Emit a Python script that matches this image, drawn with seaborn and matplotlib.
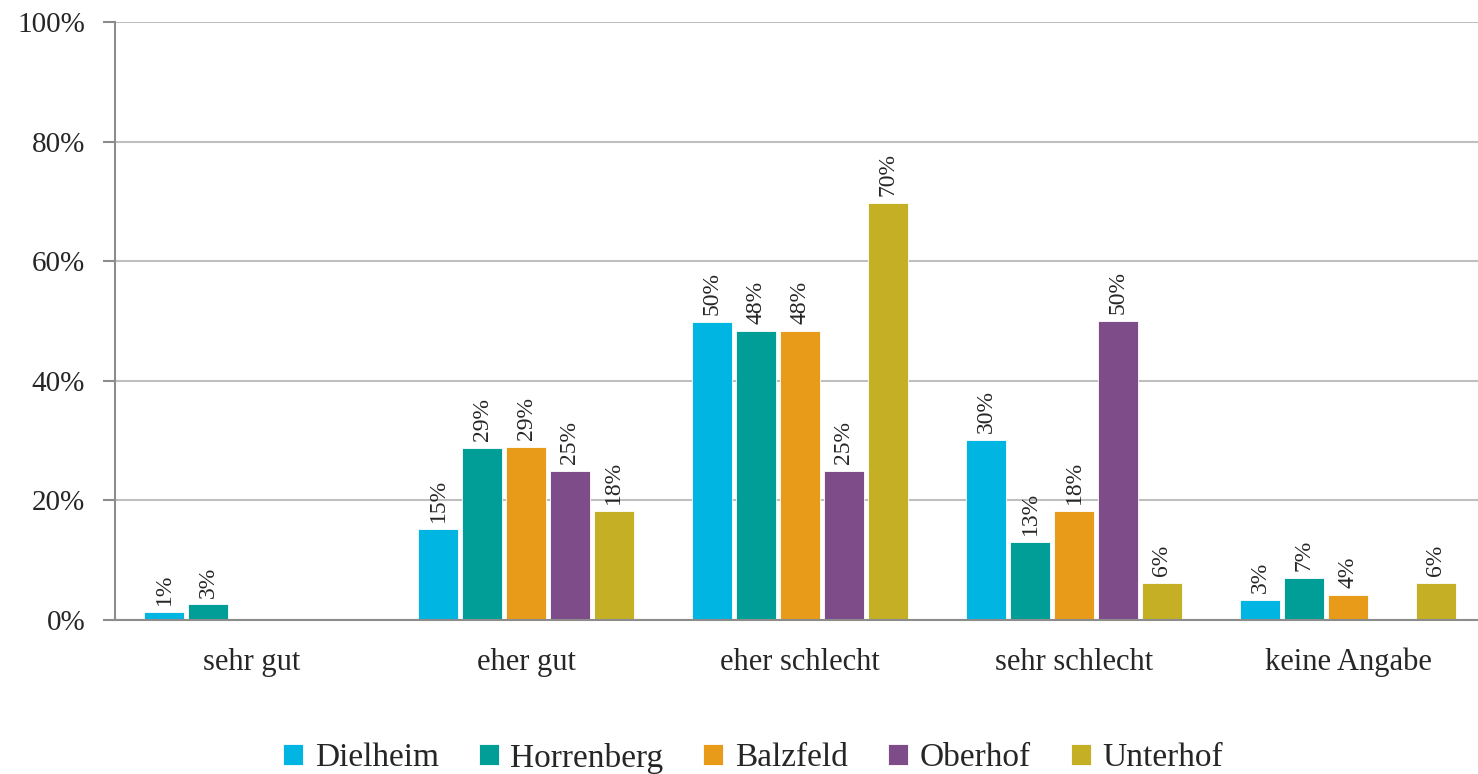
import numpy as np
import pandas as pd
import matplotlib.pyplot as plt
import seaborn as sns
from matplotlib.ticker import FuncFormatter, FixedLocator

# Data (percent)
kategorien = ['sehr gut', 'eher gut', 'eher schlecht', 'sehr schlecht', 'keine Angabe']
orte = ['Dielheim', 'Horrenberg', 'Balzfeld', 'Oberhof', 'Unterhof']
dielheim = [1.3, 15.3, 49.8, 30.1, 3.3]
horrenberg = [2.6, 28.8, 48.4, 13.0, 7.1]
balzfeld = [np.nan, 29.0, 48.4, 18.2, 4.2]
oberhof = [np.nan, 25.0, 25.0, 50.0, np.nan]
unterhof = [np.nan, 18.2, 69.7, 6.2, 6.2]
farben = ['#00B5E2', '#009E96', '#E89B18', '#7F4C8A', '#C5AF24']
y_ticks = [0, 20, 40, 60, 80, 100]

werte = [dielheim, horrenberg, balzfeld, oberhof, unterhof]
rows = []
for ort, vals in zip(orte, werte):
    for kat, v in zip(kategorien, vals):
        rows.append({'Kategorie': kat, 'Ort': ort, 'Wert': v})
df = pd.DataFrame(rows)

sns.set_style('white')
plt.rcParams['font.family'] = ['Liberation Serif', 'DejaVu Serif']

fig = plt.figure(figsize=(14.78, 7.74), dpi=100)
ax = fig.add_axes([115 / 1478, 1 - 620 / 774, 1370 / 1478, 598 / 774])

sns.barplot(data=df, x='Kategorie', y='Wert', hue='Ort', order=kategorien,
            hue_order=orte, palette=farben, saturation=1, width=0.8, gap=0.08,
            edgecolor='white', linewidth=0.6, ax=ax, legend=True)

# rotated value labels above each bar
for c in ax.containers:
    labels = ['' if np.isnan(v) else f'{v:.0f}%' for v in c.datavalues]
    ax.bar_label(c, labels=labels, rotation=90, padding=5, fontsize=17)

ax.set_xlim(-0.5, 4.5)
ax.set_ylim(0, 100)
ax.set_xlabel('')
ax.set_ylabel('')
ax.yaxis.set_major_locator(FixedLocator(y_ticks))
ax.yaxis.set_major_formatter(FuncFormatter(lambda v, p: f'{v:.0f}%'))
ax.grid(axis='y', color='#BFBFBF', linewidth=1.5)
ax.set_axisbelow(True)

ax.set_xticks(np.arange(-0.5, 5.0, 1.0), minor=True)
ax.tick_params(axis='x', which='major', length=0, labelsize=22, pad=20)
ax.tick_params(axis='x', which='minor', length=8, width=1.5, color='#8C8C8C', direction='out')
ax.tick_params(axis='y', length=8.5, width=1.5, color='#8C8C8C', labelsize=21, left=True, pad=13)

for s in ['top', 'right']:
    ax.spines[s].set_visible(False)
for s in ['left', 'bottom']:
    ax.spines[s].set_color('#8C8C8C')
    ax.spines[s].set_linewidth(1.5)

ax.legend_.remove()
handles, lbls = ax.get_legend_handles_labels()
fig.legend(handles, lbls, loc='center', bbox_to_anchor=(0.5095, 1 - 758 / 774), ncol=5,
           frameon=False, fontsize=24, handlelength=0.6, handleheight=0.6,
           handletextpad=0.35, columnspacing=1.2)

fig.savefig('out.png', dpi=100)
